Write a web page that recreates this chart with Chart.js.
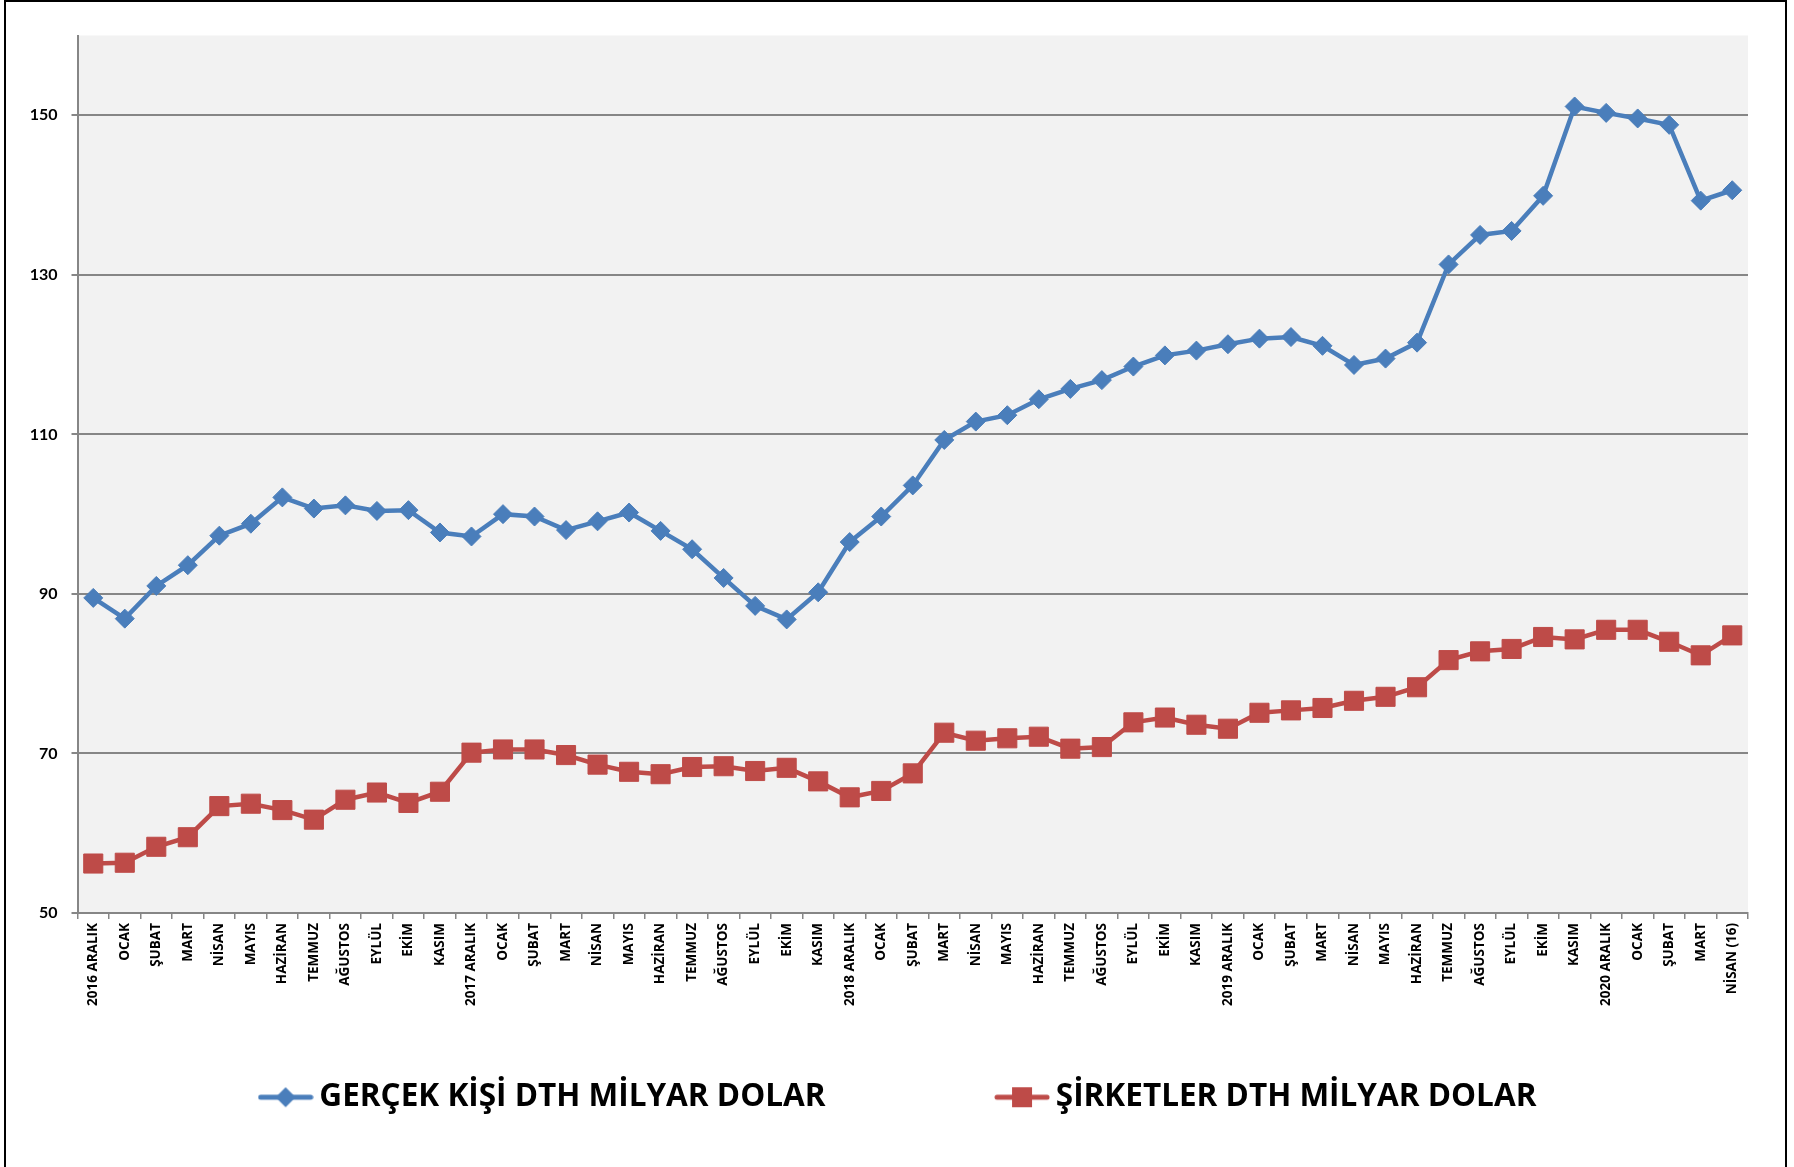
<!DOCTYPE html>
<html>
<head>
<meta charset="utf-8">
<script src="https://cdn.jsdelivr.net/npm/chart.js@4/dist/chart.umd.min.js"></script>
<style>
  html, body { margin: 0; padding: 0; background: #fff; overflow: hidden; }
  #wrap { position: relative; width: 1794px; height: 1167px; }
  #frame { position: absolute; left: 4px; top: 0px; width: 1783px; height: 1200px; box-sizing: border-box; border: 2px solid #000; pointer-events: none; }
  canvas { position: absolute; left: 0; top: 0; }
</style>
</head>
<body>
<div id="wrap">
  <canvas id="c" width="1794" height="1167"></canvas>
  <div id="frame"></div>
</div>
<script>
const categories = [
  '2016 ARALIK','OCAK','ŞUBAT','MART','NİSAN','MAYIS','HAZİRAN','TEMMUZ','AĞUSTOS','EYLÜL','EKİM','KASIM',
  '2017 ARALIK','OCAK','ŞUBAT','MART','NİSAN','MAYIS','HAZİRAN','TEMMUZ','AĞUSTOS','EYLÜL','EKİM','KASIM',
  '2018 ARALIK','OCAK','ŞUBAT','MART','NİSAN','MAYIS','HAZİRAN','TEMMUZ','AĞUSTOS','EYLÜL','EKİM','KASIM',
  '2019 ARALIK','OCAK','ŞUBAT','MART','NİSAN','MAYIS','HAZİRAN','TEMMUZ','AĞUSTOS','EYLÜL','EKİM','KASIM',
  '2020 ARALIK','OCAK','ŞUBAT','MART','NİSAN (16)'
];

const gercekKisi = [
  89.5, 86.9, 91.0, 93.6, 97.3, 98.8, 102.1, 100.7, 101.1, 100.4, 100.5, 97.7,
  97.2, 100.0, 99.7, 98.0, 99.1, 100.2, 97.9, 95.6, 92.0, 88.5, 86.8, 90.2,
  96.5, 99.7, 103.6, 109.3, 111.6, 112.4, 114.4, 115.7, 116.8, 118.5, 119.9, 120.5,
  121.3, 122.0, 122.2, 121.1, 118.7, 119.5, 121.5, 131.3, 135.0, 135.5, 139.9, 151.1,
  150.3, 149.6, 148.8, 139.3, 140.6
];

const sirketler = [
  56.2, 56.3, 58.3, 59.5, 63.4, 63.7, 62.9, 61.7, 64.2, 65.1, 63.8, 65.2,
  70.1, 70.5, 70.5, 69.8, 68.6, 67.7, 67.4, 68.3, 68.4, 67.8, 68.2, 66.5,
  64.5, 65.3, 67.5, 72.6, 71.6, 71.9, 72.1, 70.6, 70.8, 73.9, 74.5, 73.6,
  73.1, 75.1, 75.4, 75.7, 76.6, 77.1, 78.3, 81.7, 82.8, 83.1, 84.6, 84.3,
  85.5, 85.5, 84.0, 82.3, 84.8
];

const yTickValues = [50, 70, 90, 110, 130, 150];
const yMin = 50;
const yMax = 160;

const seriesNames = ['GERÇEK KİŞİ DTH MİLYAR DOLAR', 'ŞİRKETLER DTH MİLYAR DOLAR'];

const BLUE = '#4a7ebb';
const RED = '#be4b48';
const GRID = '#868686';
const FONT_Y = 'Lato';
const FONT_X = '"Open Sans"';

function legendIcon(color, shape) {
  const cv = document.createElement('canvas');
  cv.width = 56; cv.height = 24;
  const g = cv.getContext('2d');
  g.strokeStyle = color; g.lineWidth = 5; g.lineCap = 'round';
  g.beginPath(); g.moveTo(3, 12); g.lineTo(53, 12); g.stroke();
  g.fillStyle = color;
  g.beginPath();
  if (shape === 'diamond') {
    g.moveTo(28, 2); g.lineTo(38, 12); g.lineTo(28, 22); g.lineTo(18, 12); g.closePath();
  } else {
    g.rect(18, 2, 20, 20);
  }
  g.fill();
  return cv;
}
const spacerIcon = document.createElement('canvas');
spacerIcon.width = 1; spacerIcon.height = 1;

const bgPlugin = {
  id: 'plotBg',
  beforeDraw(chart) {
    const a = chart.chartArea;
    const ctx = chart.ctx;
    ctx.save();
    ctx.fillStyle = '#f2f2f2';
    ctx.fillRect(a.left, a.top, a.right - a.left, a.bottom - a.top);
    ctx.restore();
  }
};

const PLOT_BOTTOM = 913;
const PAD_BOTTOM = 44;

new Chart(document.getElementById('c'), {
  type: 'line',
  data: {
    labels: categories,
    datasets: [
      {
        label: seriesNames[0],
        data: gercekKisi,
        borderColor: BLUE,
        backgroundColor: BLUE,
        borderWidth: 4.5,
        pointStyle: 'rectRot',
        pointRadius: 9.5,
        pointBorderWidth: 1,
        pointBackgroundColor: BLUE,
        pointBorderColor: BLUE,
        tension: 0
      },
      {
        label: seriesNames[1],
        data: sirketler,
        borderColor: RED,
        backgroundColor: RED,
        borderWidth: 4.5,
        pointStyle: 'rect',
        pointRadius: 13.5,
        pointBorderWidth: 1,
        pointBackgroundColor: RED,
        pointBorderColor: RED,
        tension: 0
      }
    ]
  },
  plugins: [bgPlugin],
  options: {
    responsive: false,
    animation: false,
    devicePixelRatio: 1,
    layout: { padding: { left: 10, right: 0, top: 35.5, bottom: PAD_BOTTOM } },
    plugins: {
      tooltip: { enabled: false },
      legend: {
        position: 'bottom',
        onClick: null,
        labels: {
          usePointStyle: true,
          pointStyleWidth: 36,
          padding: 25,
          color: '#000',
          font: { family: FONT_X, size: 31.5, weight: 'bold' },
          generateLabels(chart) {
            const icons = [legendIcon(BLUE, 'diamond'), legendIcon(RED, 'square')];
            const items = chart.data.datasets.map((ds, i) => ({
              text: ds.label,
              fillStyle: ds.borderColor,
              strokeStyle: ds.borderColor,
              lineWidth: 0,
              hidden: false,
              pointStyle: icons[i],
              datasetIndex: i,
              fontColor: '#000'
            }));
            const spacer = () => ({ text: '', fillStyle: 'rgba(0,0,0,0)', strokeStyle: 'rgba(0,0,0,0)', lineWidth: 0, pointStyle: spacerIcon, hidden: false });
            return [items[0], spacer(), spacer(), items[1]];
          }
        }
      }
    },
    scales: {
      x: {
        type: 'category',
        offset: true,
        afterFit(scale) {
          const lh = scale.chart.legend ? scale.chart.legend.height : 66;
          scale.height = scale.chart.height - PAD_BOTTOM - lh - PLOT_BOTTOM;
          scale.paddingRight = 46;
          scale.paddingLeft = 0;
        },
        grid: {
          offset: true,
          drawOnChartArea: false,
          drawTicks: true,
          tickLength: 6,
          color: GRID,
          lineWidth: 1.5
        },
        border: { display: true, color: GRID, width: 2 },
        ticks: {
          autoSkip: false,
          maxRotation: 90,
          minRotation: 90,
          padding: 4,
          color: '#000',
          font: { family: FONT_X, size: 13.5, weight: 'bold' }
        }
      },
      y: {
        min: yMin,
        max: yMax,
        afterBuildTicks(axis) {
          axis.ticks = yTickValues.map(v => ({ value: v }));
        },
        afterFit(scale) {
          scale.width = 67.5;
        },
        grid: {
          color: GRID,
          lineWidth: 2,
          tickLength: 6,
          drawTicks: true
        },
        border: { display: true, color: GRID, width: 2 },
        ticks: {
          padding: 14,
          color: '#000',
          font: { family: FONT_Y, size: 16, weight: 'bold' }
        }
      }
    }
  }
});
</script>
</body>
</html>
